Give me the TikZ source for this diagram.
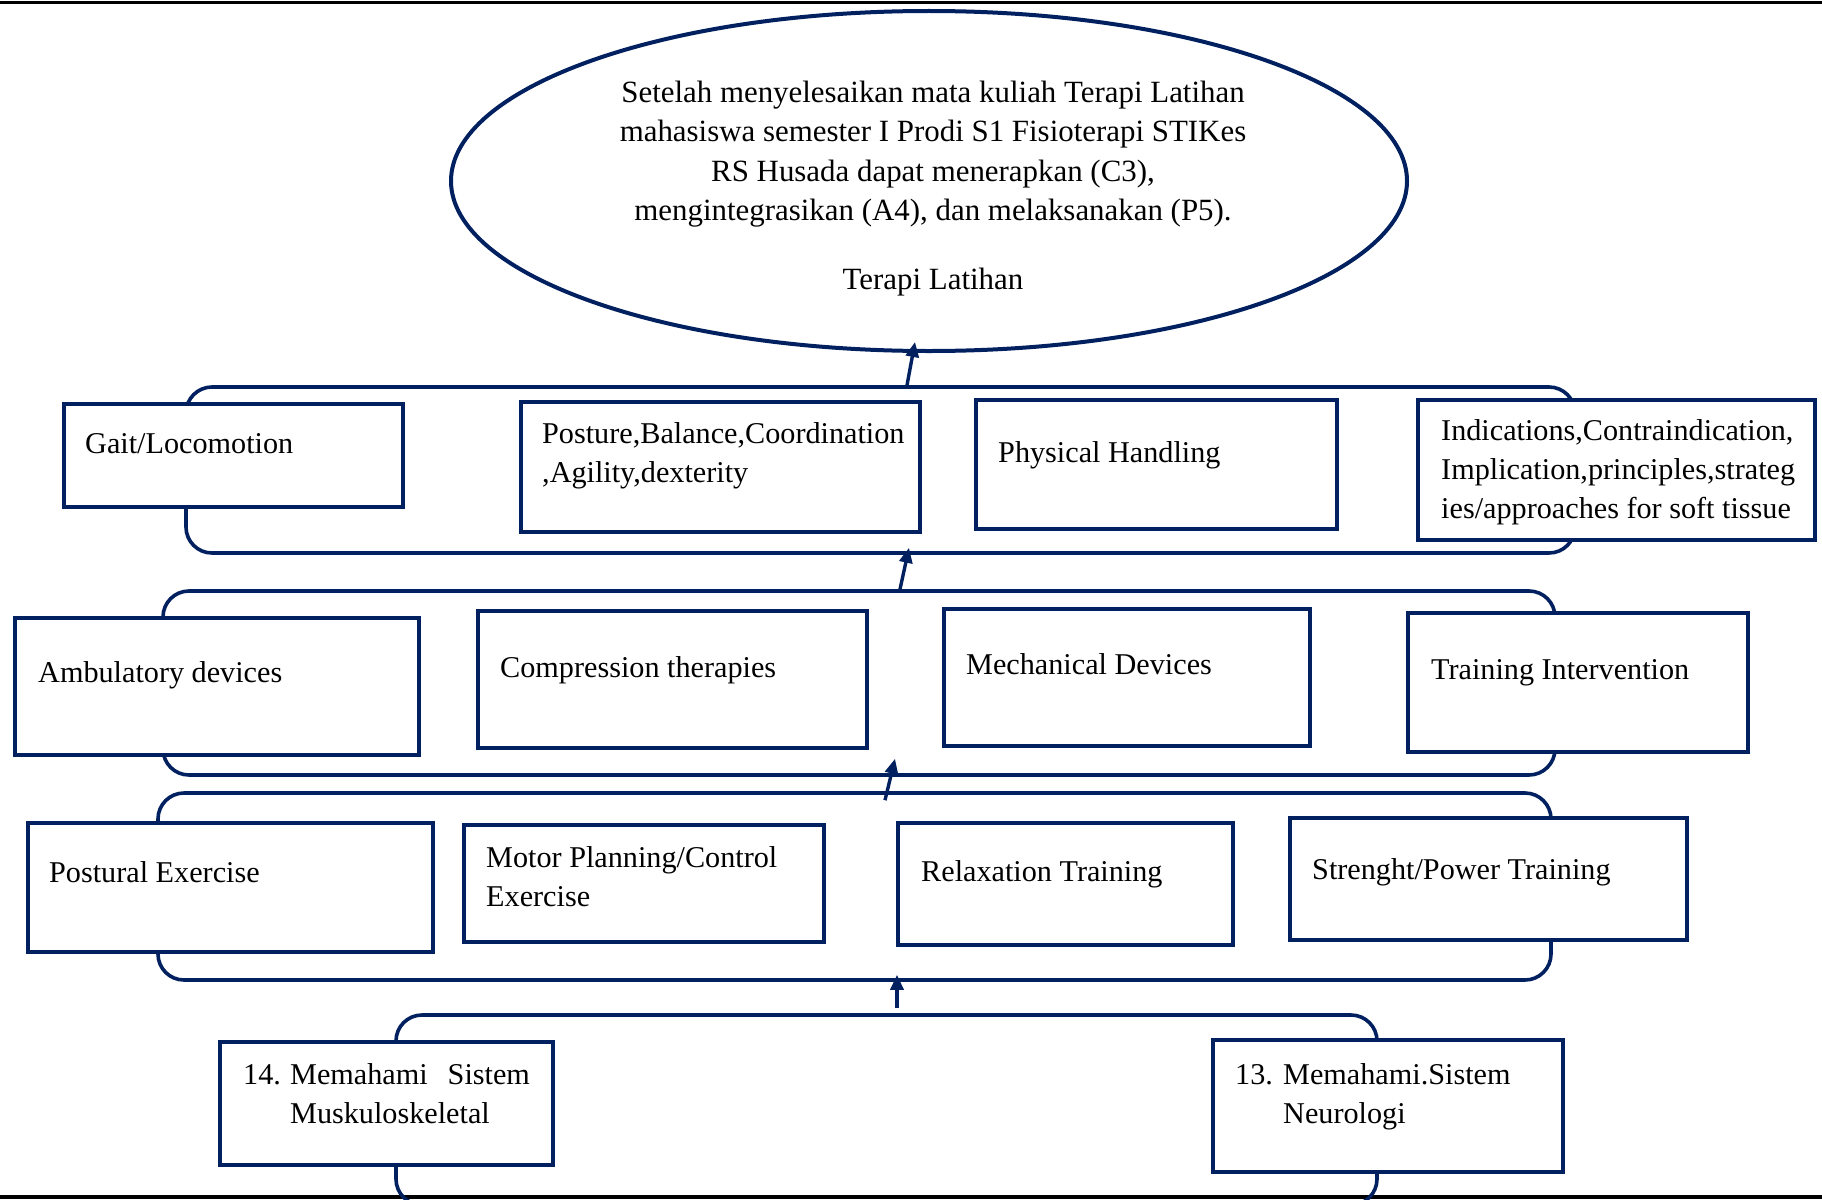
\documentclass[tikz,border=0pt]{standalone}
\usepackage{fontspec}
\setmainfont{Liberation Serif}
\usetikzlibrary{shapes.geometric,arrows.meta}
\definecolor{navy}{HTML}{002060}

\begin{document}
\begin{tikzpicture}[x=1pt,y=-1pt,
  band/.style={draw=navy, line width=3.6pt, rounded corners=26pt, inner sep=0},
  box/.style={draw=navy, line width=4pt, fill=white, inner sep=0},
  txt/.style={anchor=base west, align=left, inner sep=0, font=\fontsize{30.2}{39}\selectfont},
  arr/.style={draw=navy, line width=3.4pt, -{Triangle[length=15pt,width=13pt]}}]
\useasboundingbox (0,0) rectangle (1822,1199);
\clip (0,0) rectangle (1822,1199);

% page rules
\draw[line width=3pt] (0,3) -- (1822,3);
\draw[line width=4pt] (0,1197) -- (1822,1197);

% goal (anchor base = last line)
\node[ellipse, draw=navy, line width=4pt, minimum width=956pt, minimum height=340pt, inner sep=0] (goal) at (929,181) {};
\node[txt, anchor=base, align=center, font=\fontsize{30.9}{39.5}\selectfont] (goalT) at (933,289)
  {Setelah menyelesaikan mata kuliah Terapi Latihan\\
   mahasiswa semester I Prodi S1 Fisioterapi STIKes\\
   RS Husada dapat menerapkan (C3),\\
   mengintegrasikan (A4), dan melaksanakan (P5).\\[29pt]
   Terapi Latihan};

% rounded bands behind each row
\node[band, minimum width=1389pt, minimum height=166pt] (row1) at (880.5,470) {};
\node[band, minimum width=1392pt, minimum height=184pt] (row2) at (859,683) {};
\node[band, minimum width=1393pt, minimum height=187pt] (row3) at (854.5,886.5) {};
\node[band, minimum width=981pt, minimum height=190pt] (row4) at (886.5,1110) {};

% row 1
\node[box, minimum width=339pt, minimum height=103pt] (gait) at (233.5,455.5) {};
\node[txt] (gaitT) at ([shift={(23,51)}]gait.north west) {Gait/Locomotion};
\node[box, minimum width=399pt, minimum height=130pt] (posture) at (720.5,467) {};
\node[txt] (postureT) at ([shift={(23,82.5)}]posture.north west) {Posture,Balance,Coordination\\,Agility,dexterity};
\node[box, minimum width=361pt, minimum height=129pt] (handling) at (1156.5,464.5) {};
\node[txt] (handlingT) at ([shift={(24,64)}]handling.north west) {Physical Handling};
\node[box, minimum width=397pt, minimum height=140pt] (indic) at (1616.5,470) {};
\node[txt] (indicT) at ([shift={(25,120)}]indic.north west) {Indications,Contraindication,\\Implication,principles,strateg\\ies/approaches for soft tissue};

% row 2
\node[box, minimum width=404pt, minimum height=137pt] (ambul) at (217,686.5) {};
\node[txt] (ambulT) at ([shift={(25,66)}]ambul.north west) {Ambulatory devices};
\node[box, minimum width=389pt, minimum height=137pt] (compr) at (672.5,679.5) {};
\node[txt] (comprT) at ([shift={(24,68)}]compr.north west) {Compression therapies};
\node[box, minimum width=366pt, minimum height=137pt] (mech) at (1127,677.5) {};
\node[txt] (mechT) at ([shift={(24,67)}]mech.north west) {Mechanical Devices};
\node[box, minimum width=340pt, minimum height=139pt] (train) at (1578,682.5) {};
\node[txt] (trainT) at ([shift={(25,68)}]train.north west) {Training Intervention};

% row 3
\node[box, minimum width=405pt, minimum height=129pt] (postural) at (230.5,887.5) {};
\node[txt] (posturalT) at ([shift={(23,61)}]postural.north west) {Postural Exercise};
\node[box, minimum width=360pt, minimum height=117pt] (motor) at (644,883.5) {};
\node[txt] (motorT) at ([shift={(24,83)}]motor.north west) {Motor Planning/Control\\Exercise};
\node[box, minimum width=335pt, minimum height=122pt] (relax) at (1065.5,884) {};
\node[txt] (relaxT) at ([shift={(25,60)}]relax.north west) {Relaxation Training};
\node[box, minimum width=397pt, minimum height=122pt] (power) at (1488.5,879) {};
\node[txt] (powerT) at ([shift={(24,63)}]power.north west) {Strenght/Power Training};

% row 4
\node[box, minimum width=333pt, minimum height=123pt] (musk) at (386.5,1103.5) {};
\node[txt] (muskT) at ([shift={(25,83)}]musk.north west) {\makebox[47pt][l]{14.}Memahami\hspace{20pt}Sistem\\\hspace*{47pt}Muskuloskeletal};
\node[box, minimum width=350pt, minimum height=132pt] (neuro) at (1388,1106) {};
\node[txt] (neuroT) at ([shift={(24,85)}]neuro.north west) {\makebox[48pt][l]{13.}Memahami.Sistem\\\hspace*{48pt}Neurologi};

% arrows between rows
\draw[arr] ([shift={(26.5,0)}]row1.north) -- ([shift={(-14,-11)}]goal.south);
\draw[arr] ([shift={(41,0)}]row2.north) -- ([shift={(28.5,-7)}]row1.south);
\draw[arr] ([shift={(30.5,9)}]row3.north) -- ([shift={(36,-18)}]row2.south);
\draw[arr] ([shift={(10.5,-5)}]row4.north) -- ([shift={(42.5,-7)}]row3.south);
\end{tikzpicture}
\end{document}
